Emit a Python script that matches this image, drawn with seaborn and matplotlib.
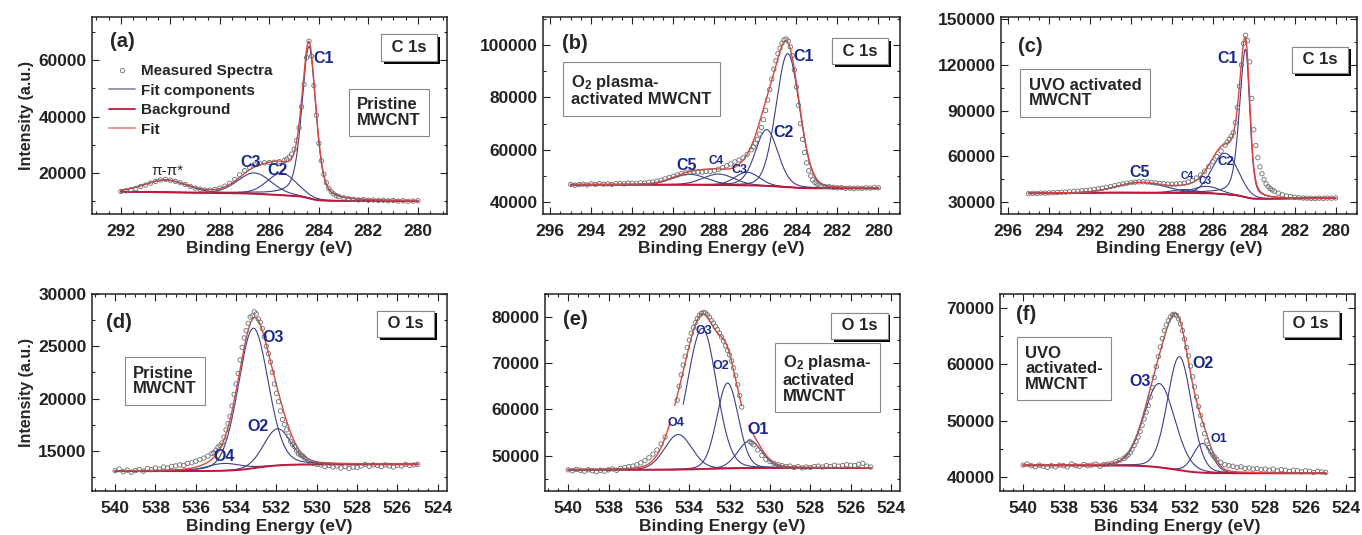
import numpy as np
import matplotlib
matplotlib.use("Agg")
import matplotlib.pyplot as plt
import matplotlib.patheffects as pe
from matplotlib.lines import Line2D
from matplotlib.ticker import MultipleLocator, FormatStrFormatter
import seaborn as sns

# ---- measured spectra (0.2 eV steps, high -> low binding energy) ----
A_RANGE = (292.0, 280.0)
A_MEAS = [13400, 13600, 14000, 14400, 15200, 15700, 16400, 17000, 17500, 17700,
          17400, 17000, 16500, 15900, 15200, 14600, 14200, 13900, 13900, 14100,
          14600, 15300, 16300, 17700, 19300, 20800, 22000, 22900, 23400, 23600,
          23700, 23800, 24000, 24400, 25600, 28400, 36000, 51500, 66800, 51000,
          30500, 19500, 14500, 12500, 11600, 11100, 10800, 10600, 10400, 10500,
          10300, 10400, 10200, 10300, 10100, 10200, 10000, 10100, 9900, 10000,
          10100]
# extra points half-way between the ones above, over the main peak
A_MID_RANGE = (285.3, 283.3)
A_MID = [24900, 26700, 31500, 43500, 61000, 61500, 40500, 24300, 16500, 13300, 11900]

B_RANGE = (295.0, 280.0)
B_MEAS = [46800, 46500, 46700, 46900, 46600, 47000, 46800, 47100, 46900, 47000,
          46800, 47100, 47200, 47000, 47300, 47200, 47100, 47400, 47300, 47600,
          47700, 48000, 48400, 48900, 49400, 49900, 50400, 50900, 51200, 51500,
          51600, 51500, 51500, 51700, 51800, 52100, 52600, 53200, 53900, 54600,
          55400, 56100, 56900, 58300, 60000, 62500, 66000, 71500, 79000, 87000,
          94000, 98800, 102000, 101500, 96000, 84000, 70000, 59000, 52000, 48500,
          47000, 46300, 46000, 45900, 45700, 45500, 45600, 45300, 45400, 45200,
          45400, 45300, 45500, 45400, 45600, 45500]
B_MID_RANGE = (286.1, 282.9)
B_MID = [61100, 64000, 68500, 75000, 83000, 90800, 96700, 100700, 102300, 99300,
         90500, 77000, 64000, 55000, 50000, 47600, 46600]

C_RANGE = (295.0, 280.0)
C_MEAS = [35400, 35600, 35500, 35800, 35700, 35900, 36000, 36100, 36300, 36400,
          36600, 36800, 37000, 37300, 37500, 37800, 38200, 38600, 39000, 39500,
          40000, 40600, 41200, 41700, 42200, 42600, 42900, 43100, 43200, 43000,
          42700, 42400, 42100, 41900, 41700, 41600, 41700, 41900, 42300, 43000,
          44000, 45700, 47600, 50200, 53100, 56300, 59700, 63400, 67300, 71200,
          75500, 92000, 120000, 139500, 122000, 77400, 59000, 48500, 41800, 38800,
          37000, 35700, 34600, 33900, 33400, 33000, 32700, 32500, 32400, 32300,
          32200, 32400, 32300, 32500, 32400, 32600]
C_MID_RANGE = (285.3, 283.1)
C_MID = [69300, 73000, 82000, 106000, 134000, 136000, 98000, 67000, 53000, 44700,
         40000, 37800]

D_RANGE = (540.0, 525.0)
D_MEAS = [13100, 13250, 13000, 13150, 12950, 13100, 13200, 13050, 13300, 13200,
          13350, 13250, 13450, 13350, 13500, 13550, 13650, 13600, 13800, 13850,
          14000, 14150, 14300, 14500, 14750, 15050, 15500, 16300, 17600, 19300,
          21400, 23700, 25800, 27200, 27900, 28100, 27300, 25900, 24300, 22500,
          20500, 18800, 17500, 16400, 15600, 15000, 14600, 14300, 14000, 13800,
          13700, 13650, 13500, 13600, 13450, 13550, 13350, 13500, 13300, 13450,
          13400, 13550, 13700, 13500, 13650, 13600, 13500, 13650, 13550, 13450,
          13600, 13550, 13700, 13600, 13650, 13700]
D_MID_RANGE = (535.1, 530.7)
D_MID = [14800, 15350, 15750, 17000, 18300, 20400, 22400, 24900, 26500, 27800,
         28300, 27600, 26700, 25000, 23500, 21400, 19700, 18000, 17000, 15900,
         15400, 14700, 14500]

E_RANGE = (540.0, 525.0)
E_MEAS = [46900, 46700, 47000, 46800, 46600, 46900, 46700, 46500, 46800, 46600,
          46900, 47100, 46800, 47200, 47400, 47600, 47700, 48000, 48400, 48900,
          49500, 50300, 51200, 52500, 54000, None, None, 62000, 67500, 71500,
          75000, 77700, 79700, 80800, 80900, 80000, 78700, 77300, 75700, 73800,
          71800, 69000, 65300, 60500, None, 53000, 52300, 51200, 50000, 49200,
          48700, 48300, 48000, 47800, 47600, 47700, 47400, 47600, 47300, 47500,
          47400, 47600, 47700, 47500, 47800, 47600, 47900, 47700, 47800, 48000,
          47900, 47800, 48100, 48300, 47700, 47500]
E_MID_RANGE = (534.5, 530.9)
E_MID = [65000, 69600, 73400, 76500, 78800, 80400, 81000, 80500, 79300, 78000,
         76500, 74800, 72800, 70500, 67300, 63000, None, None, 52700]

F_RANGE = (540.0, 525.0)
F_MEAS = [42100, 42300, 42000, 41800, 42100, 41900, 41700, 42000, 41800, 42100,
          42000, 41800, 42300, 42000, 41900, 42200, 42000, 42100, 42300, 41900,
          42200, 42300, 42400, 42700, 43000, 43300, 43900, 44900, 46300, 48100,
          50300, 52700, 55900, 59600, 63100, 66000, 67800, 68800, 68700, 67200,
          64500, 61500, 57800, 54200, 50900, 47700, 45200, 43900, 43100, 42600,
          42200, 42000, 41900, 41700, 41800, 41500, 41600, 41400, 41500, 41300,
          41400, 41200, 41400, 41100, 41300, 41200, 41000, 41200, 41100, 40900,
          41100, 41000, 40800, 41000, 40900, 40800]
F_MID_RANGE = (534.9, 530.5)
F_MID = [43600, 44300, 45600, 47100, 49200, 51500, 54200, 57700, 61400, 64600,
         67000, 68400, 68900, 68100, 66000, 63000, 59700, 56000, 52500, 49300,
         46400, 44500, 43500]

# ---- fitted components: centre (eV), height, fwhm low-BE side, fwhm high-BE side, lorentz share ----
A_CENTER = [290.2, 286.6, 285.5, 284.4]
A_HEIGHT = [4300, 7400, 7800, 54000]
A_FWHM_LO = [2.0, 1.6, 1.4, 0.66]
A_FWHM_HI = [2.0, 1.6, 1.4, 0.68]
A_ETA = [0.15, 0.15, 0.15, 0.45]
A_BG = [13300, 10000, 0]   # high-BE end, low-BE end, slope

B_CENTER = [289.2, 287.8, 286.4, 285.45, 284.42]
B_HEIGHT = [4000, 4200, 5000, 21500, 51000]
B_FWHM_LO = [2.0, 1.8, 1.4, 1.3, 1.35]
B_FWHM_HI = [2.0, 1.8, 1.4, 1.3, 1.35]
B_ETA = [0.1, 0.1, 0.1, 0.2, 0.1]
B_BG = [46700, 45300, 0]

C_CENTER = [289.5, 287.4, 286.3, 285.4, 284.4]
C_HEIGHT = [6700, 2200, 4500, 27000, 97300]
C_FWHM_LO = [2.8, 1.4, 1.5, 1.5, 0.48]
C_FWHM_HI = [2.8, 1.4, 1.5, 1.5, 0.70]
C_ETA = [0.0, 0.0, 0.0, 0.0, 0.4]
C_BG = [37800, 32500, -150]

D_CENTER = [534.6, 533.15, 531.95]
D_HEIGHT = [700, 13400, 3500]
D_FWHM_LO = [2.0, 1.75, 1.6]
D_FWHM_HI = [2.0, 1.75, 1.6]
D_ETA = [0.1, 0.15, 0.1]
D_BG = [13050, 13700, 0]

E_CENTER = [534.55, 533.35, 532.1, 531.0]
E_HEIGHT = [7600, 30500, 18500, 5900]
E_FWHM_LO = [1.6, 1.65, 1.25, 1.4]
E_FWHM_HI = [1.6, 1.8, 1.25, 1.4]
E_ETA = [0.1, 0.1, 0.1, 0.1]
E_BG = [46900, 47300, 0]

F_CENTER = [533.25, 532.25, 531.1]
F_HEIGHT = [14900, 20200, 5200]
F_FWHM_LO = [1.8, 1.4, 1.1]
F_FWHM_HI = [1.8, 1.4, 1.1]
F_ETA = [0.1, 0.1, 0.1]
F_BG = [42050, 40650, 0]

COMP_COLOR = "#3c4088"
BG_COLOR = "#c2173d"
FIT_COLOR = "#e4433b"
MEAS_COLOR = "#6e6e6e"
LABEL_COLOR = "#1b2a8a"

PANELS = [
    dict(tag="(a)", rng=A_RANGE, meas=A_MEAS, mid_rng=A_MID_RANGE, mid=A_MID,
         center=A_CENTER, height=A_HEIGHT, lo=A_FWHM_LO, hi=A_FWHM_HI,
         eta=A_ETA, bg=A_BG, rect=[0.0675, 0.600, 0.2606, 0.3682], xlim=(293.17, 278.83), ylim=(5400, 75400),
         ymaj=20000, ymin=10000, xmaj=2, core="C 1s", core_pos=(0.894, 0.844),
         sample="Pristine\nMWCNT", sample_pos=(0.837, 0.515), tag_pos=(0.087, 0.878),
         labels=[("C1", 283.82, 60700, 11.5), ("C3", 286.75, 23600, 11.5), ("C2", 285.66, 20700, 11.5)],
         ylabel=True, legend=True),
    dict(tag="(b)", rng=B_RANGE, meas=B_MEAS, mid_rng=B_MID_RANGE, mid=B_MID,
         center=B_CENTER, height=B_HEIGHT, lo=B_FWHM_LO, hi=B_FWHM_HI,
         eta=B_ETA, bg=B_BG, rect=[0.3987, 0.600, 0.2621, 0.3682], xlim=(296.35, 278.95), ylim=(35500, 110700),
         ymaj=20000, ymin=10000, xmaj=2, core="C 1s", core_pos=(0.888, 0.827),
         sample="O$_2$ plasma-\nactivated MWCNT", sample_pos=(0.275, 0.629), tag_pos=(0.09, 0.868),
         labels=[("C1", 283.66, 95800, 11.5), ("C2", 284.63, 66800, 11.5), ("C5", 289.37, 54200, 11.5),
                 ("C4", 287.9, 55800, 8.5), ("C3", 286.78, 52400, 9)],
         ylabel=False, legend=False),
    dict(tag="(c)", rng=C_RANGE, meas=C_MEAS, mid_rng=C_MID_RANGE, mid=C_MID,
         center=C_CENTER, height=C_HEIGHT, lo=C_FWHM_LO, hi=C_FWHM_HI,
         eta=C_ETA, bg=C_BG, rect=[0.7350, 0.600, 0.2614, 0.3682], xlim=(296.35, 278.95), ylim=(22000, 151500),
         ymaj=30000, ymin=15000, xmaj=2, core="C 1s", core_pos=(0.896, 0.782),
         sample="UVO activated\nMWCNT", sample_pos=(0.236, 0.614), tag_pos=(0.081, 0.848),
         labels=[("C1", 285.3, 124000, 11.5), ("C2", 285.35, 56000, 9.5), ("C5", 289.6, 49000, 11.5),
                 ("C4", 287.27, 47000, 7.5), ("C3", 286.37, 43800, 7.5)],
         ylabel=False, legend=False),
    dict(tag="(d)", rng=D_RANGE, meas=D_MEAS, mid_rng=D_MID_RANGE, mid=D_MID,
         center=D_CENTER, height=D_HEIGHT, lo=D_FWHM_LO, hi=D_FWHM_HI,
         eta=D_ETA, bg=D_BG, rect=[0.0675, 0.0822, 0.2606, 0.3682], xlim=(541.15, 523.55), ylim=(11150, 30000),
         ymaj=5000, ymin=2500, xmaj=2, core="O 1s", core_pos=(0.884, 0.848),
         sample="Pristine\nMWCNT", sample_pos=(0.206, 0.558), tag_pos=(0.076, 0.858),
         labels=[("O3", 532.19, 25870, 11.5), ("O2", 532.94, 17300, 11.5), ("O4", 534.58, 14420, 11.5)],
         ylabel=True, legend=False),
    dict(tag="(e)", rng=E_RANGE, meas=E_MEAS, mid_rng=E_MID_RANGE, mid=E_MID,
         center=E_CENTER, height=E_HEIGHT, lo=E_FWHM_LO, hi=E_FWHM_HI,
         eta=E_ETA, bg=E_BG, rect=[0.4002, 0.0822, 0.2606, 0.3682], xlim=(541.15, 523.55), ylim=(42300, 85000),
         ymaj=10000, ymin=5000, xmaj=2, core="O 1s", core_pos=(0.885, 0.838),
         sample="O$_2$ plasma-\nactivated\nMWCNT", sample_pos=(0.795, 0.571), tag_pos=(0.085, 0.869),
         labels=[("O3", 533.29, 77000, 9), ("O2", 532.44, 69300, 9), ("O4", 534.67, 57000, 9),
                 ("O1", 530.61, 55700, 11.5)],
         ylabel=False, legend=False, gaps=[(534.95, 534.72), (531.4, 531.05)], cut={1: 534.3}),
    dict(tag="(f)", rng=F_RANGE, meas=F_MEAS, mid_rng=F_MID_RANGE, mid=F_MID,
         center=F_CENTER, height=F_HEIGHT, lo=F_FWHM_LO, hi=F_FWHM_HI,
         eta=F_ETA, bg=F_BG, rect=[0.7342, 0.0822, 0.2606, 0.3682], xlim=(541.15, 523.55), ylim=(37500, 72500),
         ymaj=10000, ymin=5000, xmaj=2, core="O 1s", core_pos=(0.876, 0.848),
         sample="UVO\nactivated-\nMWCNT", sample_pos=(0.18, 0.621), tag_pos=(0.073, 0.894),
         labels=[("O3", 534.21, 56900, 11.5), ("O2", 531.08, 60100, 11.5), ("O1", 530.29, 46800, 9)],
         ylabel=False, legend=False),
]


def pseudo_voigt(e, center, height, fwhm_lo, fwhm_hi, eta):
    fwhm = np.where(e >= center, fwhm_hi, fwhm_lo)
    d = (e - center) / fwhm
    gauss = np.exp(-4 * np.log(2) * d ** 2)
    lorentz = 1 / (1 + 4 * d ** 2)
    return height * ((1 - eta) * gauss + eta * lorentz)


def shirley(e, total, bg):
    high, low, slope = bg
    order = np.argsort(e)
    cum = np.cumsum(total[order])
    frac = np.empty_like(cum)
    frac[order] = cum / cum[-1]
    return low + (high - low) * frac + slope * (e - e.min())


def draw_segments(ax, x, y, **kw):
    # seaborn joins across NaN, so draw each unbroken run on its own
    ok = ~np.isnan(y)
    idx = np.flatnonzero(np.diff(np.concatenate([[0], ok.astype(int), [0]])))
    for s, t in zip(idx[::2], idx[1::2]):
        sns.lineplot(x=x[s:t], y=y[s:t], ax=ax, sort=False, estimator=None, legend=False, **kw)


def plot_panel(fig, p):
    ax = fig.add_axes(p["rect"])
    e0, e1 = p["rng"]
    meas = np.array(p["meas"], dtype=float)
    mid = np.array(p["mid"], dtype=float)
    e_meas = np.concatenate([np.linspace(e0, e1, len(meas)), np.linspace(*p["mid_rng"], len(mid))])
    y_meas = np.concatenate([meas, mid])
    e = np.linspace(e0, e1, 1501)

    comps = [pseudo_voigt(e, c, h, lo, hi, et)
             for c, h, lo, hi, et in zip(p["center"], p["height"], p["lo"], p["hi"], p["eta"])]
    total = np.sum(comps, axis=0)
    bg = shirley(e, total, p["bg"])
    fit = bg + total
    for lo_e, hi_e in p.get("gaps", []):
        fit[(e < lo_e) & (e > hi_e)] = np.nan

    for i, comp in enumerate(comps):
        y = bg + comp
        if i in p.get("cut", {}):
            y = np.where(e > p["cut"][i], np.nan, y)
        draw_segments(ax, e, y, color=COMP_COLOR, lw=0.8, zorder=2)
    draw_segments(ax, e, bg, color=BG_COLOR, lw=1.4, zorder=3)
    draw_segments(ax, e, fit, color=FIT_COLOR, lw=1.0, zorder=4)
    sns.scatterplot(x=e_meas, y=y_meas, ax=ax, marker="o", s=10, facecolor="none",
                    edgecolor=MEAS_COLOR, linewidth=0.6, zorder=5, legend=False)

    ax.set_xlim(*p["xlim"])
    ax.set_ylim(*p["ylim"])
    ax.xaxis.set_major_locator(MultipleLocator(p["xmaj"]))
    ax.xaxis.set_minor_locator(MultipleLocator(0.5))
    ax.yaxis.set_major_locator(MultipleLocator(p["ymaj"]))
    ax.yaxis.set_minor_locator(MultipleLocator(p["ymin"]))
    ax.yaxis.set_major_formatter(FormatStrFormatter("%d"))
    ax.xaxis.set_major_formatter(FormatStrFormatter("%d"))
    ax.tick_params(which="both", direction="in", top=True, right=True, width=0.8, colors="#222222")
    ax.tick_params(which="major", length=5, labelsize=12.5)
    ax.tick_params(which="minor", length=2.5)
    ax.tick_params(axis="x", pad=7.5)
    ax.tick_params(axis="y", pad=4)
    for sp in ax.spines.values():
        sp.set_linewidth(1.1)
        sp.set_color("#222222")

    ax.set_xlabel("Binding Energy (eV)", fontsize=12.5, labelpad=1.5)
    if p["ylabel"]:
        ax.set_ylabel("Intensity (a.u.)", fontsize=11.5, labelpad=3)
    else:
        ax.set_ylabel("")

    ax.text(*p["tag_pos"], p["tag"], transform=ax.transAxes, fontsize=14.5,
            ha="center", va="center")
    core = ax.text(*p["core_pos"], " " + p["core"] + " ", transform=ax.transAxes, fontsize=12,
                   ha="center", va="center", zorder=6,
                   bbox=dict(boxstyle="square,pad=0.35", fc="white", ec="#8a8a8a", lw=0.8))
    core.get_bbox_patch().set_path_effects([
        pe.withSimplePatchShadow(offset=(2, -2), shadow_rgbFace="black", alpha=1.0), pe.Normal()])
    ax.text(*p["sample_pos"], p["sample"], transform=ax.transAxes, fontsize=12,
            ha="center", va="center", multialignment="left", linespacing=1.05, zorder=6,
            bbox=dict(boxstyle="square,pad=0.5", fc="white", ec="#8a8a8a", lw=0.8))

    for txt, x, y, fs in p["labels"]:
        ax.text(x, y, txt, fontsize=fs, color=LABEL_COLOR, ha="center", va="center", zorder=6)

    if p["tag"] == "(a)":
        ax.text(290.1, 20700, "π-π*", fontsize=11, fontweight="normal", ha="center", va="center")

    if p["legend"]:
        handles = [
            Line2D([], [], marker="o", ls="none", mfc="none", mec=MEAS_COLOR, ms=3.2, mew=0.6),
            Line2D([], [], color="#8d90a8", lw=1.3),
            Line2D([], [], color=BG_COLOR, lw=1.3),
            Line2D([], [], color="#e98a84", lw=1.3),
        ]
        ax.legend(handles, ["Measured Spectra", "Fit components", "Background", "Fit"],
                  loc="upper left", bbox_to_anchor=(0.048, 0.76), frameon=False, fontsize=11,
                  handlelength=1.7, handletextpad=0.4, labelspacing=0.36, borderpad=0,
                  borderaxespad=0, numpoints=1)
    return ax


if __name__ == "__main__":
    sns.set_theme(style="ticks")
    plt.rcParams["font.family"] = ["Liberation Sans", "DejaVu Sans"]
    plt.rcParams["font.weight"] = "bold"
    plt.rcParams["axes.labelweight"] = "bold"
    plt.rcParams["mathtext.fontset"] = "custom"
    plt.rcParams["mathtext.rm"] = "Liberation Sans:bold"
    plt.rcParams["mathtext.it"] = "Liberation Sans:bold"
    plt.rcParams["mathtext.bf"] = "Liberation Sans:bold"

    fig = plt.figure(figsize=(13.62, 5.35), dpi=100)
    for panel in PANELS:
        plot_panel(fig, panel)
    fig.savefig("out.png", dpi=100, facecolor="white")
